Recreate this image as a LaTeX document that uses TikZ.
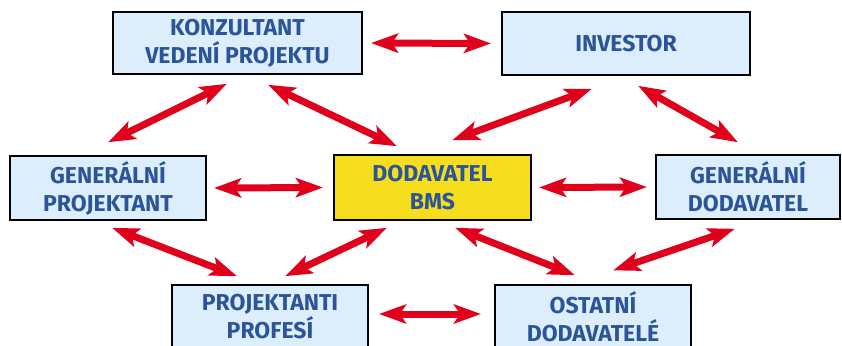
\documentclass[tikz,border=0pt]{standalone}
\usepackage{fontspec}
\setmainfont{Fira Sans}
\usetikzlibrary{arrows.meta}
\definecolor{boxblue}{HTML}{DCEEFB}
\definecolor{boxyellow}{HTML}{F6DE1E}
\definecolor{txtblue}{HTML}{2C5599}
\definecolor{arrowred}{HTML}{E0001B}
\tikzset{
  x=1pt, y=1pt,
  party/.style={draw=black, line width=2pt, fill=boxblue, inner sep=0pt,
    minimum width=196pt, minimum height=64pt, align=center,
    text=txtblue, font=\fontsize{23}{28}\selectfont\bfseries},
  keyparty/.style={party, fill=boxyellow},
  link/.style={draw=arrowred, line width=7pt,
    {Stealth[length=27pt,width=19pt,inset=6pt]}-{Stealth[length=27pt,width=19pt,inset=6pt]}},
}
\begin{document}
\begin{tikzpicture}
\useasboundingbox (0,0) rectangle (842,-345);
\clip (0,0) rectangle (842,-345);
% parties
\node[party, minimum width=249pt, minimum height=62pt] (konz) at (237.5,-43) {KONZULTANT\\VEDENÍ PROJEKTU};
\node[party, minimum width=248pt, minimum height=63pt] (inv) at (626,-43.5) {INVESTOR};
\node[party] (gp) at (108,-188) {GENERÁLNÍ\\PROJEKTANT};
\node[keyparty, minimum width=197pt, minimum height=65pt] (bms) at (432.5,-187.5) {DODAVATEL\\BMS};
\node[party, minimum width=184pt] (gd) at (748,-187) {GENERÁLNÍ\\DODAVATEL};
\node[party] (pp) at (270,-317) {PROJEKTANTI\\PROFESÍ};
\node[party] (os) at (593,-317) {OSTATNÍ\\DODAVATELÉ};
% horizontal links
\draw[link, shorten <=8pt, shorten >=10pt] (konz.east) -- (inv.west);
\draw[link, shorten <=7pt, shorten >=10pt] (gp.east) -- (bms.west);
\draw[link, shorten <=7pt, shorten >=8pt] (bms.east) -- (gd.west);
\draw[link, shorten <=10pt, shorten >=13pt] ([yshift=3pt]pp.east) -- ([yshift=3pt]os.west);
% diagonal links
\draw[link, shorten <=20pt, shorten >=28.9pt] ([xshift=7.3pt]konz.south) -- ([xshift=-25.8pt]gp.north);
\draw[link, shorten <=22.8pt, shorten >=18.2pt] ([xshift=10pt]konz.south) -- ([xshift=-19.1pt]bms.north);
\draw[link, shorten <=36.7pt, shorten >=39.6pt] ([xshift=0.3pt]inv.south) -- ([xshift=-17.5pt]bms.north);
\draw[link, shorten <=19.9pt, shorten >=23.9pt] ([xshift=-5.2pt]inv.south) -- ([xshift=10.7pt]gd.north);
\draw[link, shorten <=18.9pt, shorten >=21.5pt] ([xshift=-13.5pt]gp.south) -- ([xshift=-13pt]pp.north);
\draw[link, shorten <=15.9pt, shorten >=18.2pt] ([xshift=-31.2pt]bms.south) -- ([xshift=-1.3pt]pp.north);
\draw[link, shorten <=18.5pt, shorten >=23.8pt] ([xshift=5.4pt]bms.south) -- ([xshift=4pt]os.north);
\draw[link, shorten <=27.1pt, shorten >=42.1pt] ([xshift=12.5pt]gd.south) -- ([xshift=-19.7pt]os.north);
\end{tikzpicture}
\end{document}
